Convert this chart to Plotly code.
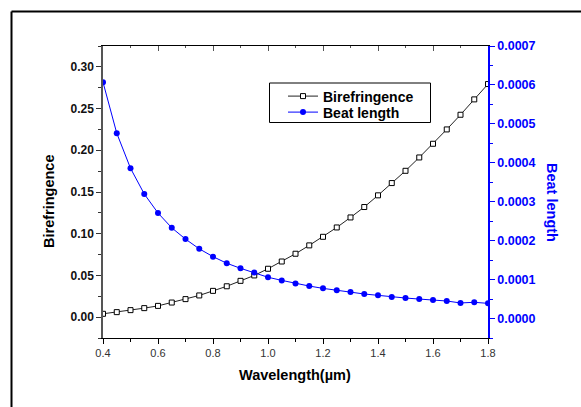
import plotly.graph_objects as go

# Wavelength samples (µm)
wavelength = [0.40, 0.45, 0.50, 0.55, 0.60, 0.65, 0.70, 0.75, 0.80, 0.85,
              0.90, 0.95, 1.00, 1.05, 1.10, 1.15, 1.20, 1.25, 1.30, 1.35,
              1.40, 1.45, 1.50, 1.55, 1.60, 1.65, 1.70, 1.75, 1.80]

birefringence = [0.0040, 0.0060, 0.0084, 0.0108, 0.0135, 0.0175, 0.0216, 0.0260,
                 0.0315, 0.0370, 0.0435, 0.0500, 0.0580, 0.0667, 0.0760, 0.0860,
                 0.0963, 0.1075, 0.1195, 0.1320, 0.1460, 0.1607, 0.1754, 0.1914,
                 0.2078, 0.2250, 0.2426, 0.2610, 0.2794]

beat_length = [0.000607, 0.000476, 0.000386, 0.000320, 0.000271, 0.000233,
               0.000204, 0.000179, 0.000159, 0.000142, 0.000129, 0.000118,
               0.000106, 0.000098, 0.000090, 0.0000834, 0.0000775, 0.0000724,
               0.0000680, 0.0000630, 0.0000596, 0.0000552, 0.0000527, 0.0000500,
               0.0000476, 0.0000450, 0.0000400, 0.0000417, 0.0000390]

W, H = 581, 407
ML, MR, MT, MB = 103, 93, 46, 69
PW, PH = W - ML - MR, H - MT - MB

FONT = "Liberation Sans, Arial, sans-serif"
BLUE = "#0000ff"


def px_x(p):
    return (p - ML) / PW


def px_y(p):
    return (H - MB - p) / PH


fig = go.Figure()

fig.add_trace(go.Scatter(
    x=wavelength, y=birefringence, name="Birefringence",
    mode="lines+markers",
    line=dict(color="#222222", width=1),
    marker=dict(symbol="square", size=5, color="white",
                line=dict(color="black", width=1)),
    yaxis="y", legend="legend",
))
fig.add_trace(go.Scatter(
    x=wavelength, y=beat_length, name="Beat length",
    mode="lines+markers",
    line=dict(color=BLUE, width=1),
    marker=dict(symbol="circle", size=6, color=BLUE),
    yaxis="y2", legend="legend2",
))

# invisible trace to carry the top (mirror) axis
fig.add_trace(go.Scatter(x=[wavelength[0]], y=[birefringence[0]], xaxis="x2",
                         mode="markers", marker=dict(opacity=0),
                         showlegend=False, hoverinfo="skip"))

legend_font = dict(family=FONT, size=14, color="black", weight="bold")
legend_common = dict(xanchor="left", yanchor="middle",
                     bgcolor="rgba(0,0,0,0)", borderwidth=0,
                     font=legend_font, itemwidth=30)

fig.update_layout(
    width=W, height=H,
    margin=dict(l=ML, r=MR, t=MT, b=MB),
    paper_bgcolor="white", plot_bgcolor="white",
    font=dict(family=FONT, color="black"),
    showlegend=True,
    legend=dict(x=px_x(283), y=px_y(96.5), **legend_common),
    legend2=dict(x=px_x(283), y=px_y(112.5), **legend_common),
    xaxis=dict(
        range=[0.4, 1.8], dtick=0.2, tick0=0.4, tickformat=".1f",
        showgrid=False, zeroline=False,
        showline=True, linecolor="black", linewidth=1,
        ticks="outside", ticklen=5, tickcolor="black",
        minor=dict(dtick=0.1, ticks="outside", ticklen=3, tickcolor="black"),
        tickfont=dict(size=11, color="#333333"),
    ),
    xaxis2=dict(
        overlaying="x", side="top", matches="x", range=[0.4, 1.8],
        dtick=0.2, tick0=0.4, showticklabels=False,
        showgrid=False, zeroline=False,
        showline=True, linecolor="black", linewidth=1,
        ticks="inside", ticklen=5, tickcolor="#555555",
        minor=dict(dtick=0.1, ticks="inside", ticklen=2, tickcolor="#555555"),
    ),
    yaxis=dict(
        range=[-0.025, 0.325], dtick=0.05, tick0=0, tickformat=".2f",
        showgrid=False, zeroline=False,
        showline=True, linecolor="#555555", linewidth=1.5,
        ticks="outside", ticklen=5, tickcolor="#333333",
        minor=dict(dtick=0.025, ticks="outside", ticklen=3, tickcolor="#333333"),
        tickfont=dict(size=12, color="#111111", weight="bold"),
    ),
    yaxis2=dict(
        overlaying="y", side="right", anchor="x",
        range=[-0.00005, 0.0007], dtick=0.0001, tick0=0, tickformat=".4f",
        showgrid=False, zeroline=False,
        showline=True, linecolor=BLUE, linewidth=1.5,
        ticks="outside", ticklen=5, tickcolor=BLUE,
        minor=dict(dtick=0.00005, ticks="outside", ticklen=3, tickcolor=BLUE),
        tickfont=dict(size=12.5, color=BLUE, weight="bold"),
    ),
)

# legend frame
fig.add_shape(type="rect", xref="paper", yref="paper", layer="below",
              x0=px_x(269.5), x1=px_x(430.5), y0=px_y(83), y1=px_y(122.5),
              line=dict(color="black", width=1), fillcolor="white")

# axis titles
title_common = dict(xref="paper", yref="paper", showarrow=False,
                    xanchor="center", yanchor="middle")
fig.add_annotation(text="<b>Birefringence</b>", x=px_x(49), y=px_y(202),
                   textangle=-90, font=dict(family=FONT, size=14.5, color="black"),
                   **title_common)
fig.add_annotation(text="<b>Beat length</b>", x=px_x(552), y=px_y(202),
                   textangle=90, font=dict(family=FONT, size=14.5, color=BLUE),
                   **title_common)
fig.add_annotation(text="<b>Wavelength(µm)</b>", x=px_x(295), y=px_y(375),
                   font=dict(family=FONT, size=14.5, color="black"),
                   **title_common)

# outer frame edges (top and left)
fig.add_shape(type="line", xref="paper", yref="paper",
              x0=px_x(11.5), y0=px_y(11.5), x1=px_x(W + 5), y1=px_y(11.5),
              line=dict(color="black", width=2))
fig.add_shape(type="line", xref="paper", yref="paper",
              x0=px_x(11.5), y0=px_y(11.5), x1=px_x(11.5), y1=px_y(H + 5),
              line=dict(color="black", width=2))

fig.write_html("out.html")
